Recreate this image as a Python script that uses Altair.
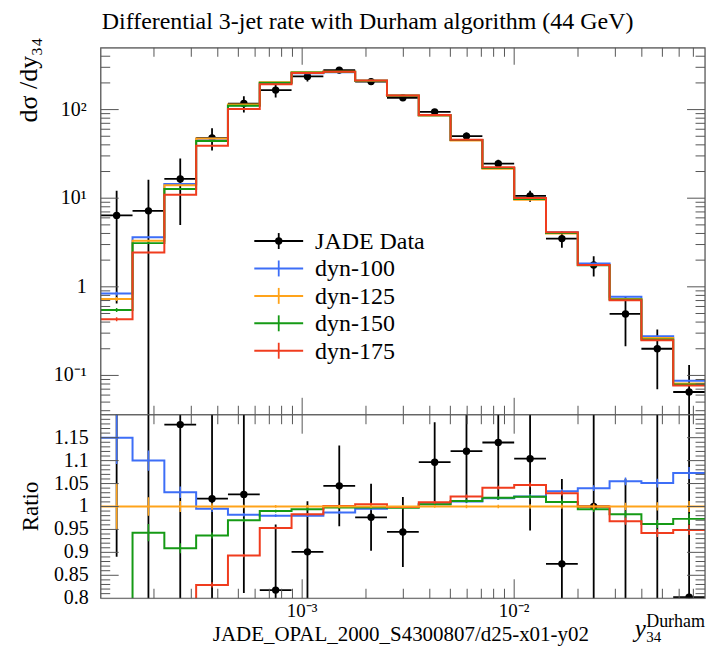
import altair as alt
import numpy as np
import pandas as pd

# ---------------- data ----------------
# bin edges of y34 (as log10 exponents)
edge_exp = [-3.95, -3.80, -3.65, -3.50, -3.35, -3.20, -3.05, -2.90, -2.75, -2.60,
            -2.45, -2.30, -2.15, -2.00, -1.85, -1.70, -1.55, -1.40, -1.25, -1.10]

# dyn-125 (reference curve of the ratio panel)
ref_125 = [0.73, 3.3, 14.0, 47.2, 114, 203, 263, 267, 212, 144, 86, 44.8,
           21.5, 9.6, 4.0, 1.76, 0.73, 0.264, 0.081]
# other generators as ratio to dyn-125
ratio_100 = [1.150, 1.100, 1.031, 0.995, 0.982, 0.980, 0.980, 0.987, 0.995, 0.999,
             1.005, 1.011, 1.018, 1.022, 1.033, 1.040, 1.055, 1.051, 1.073]
ratio_150 = [0.750, 0.943, 0.909, 0.937, 0.970, 0.990, 0.994, 0.998, 0.998, 0.997,
             1.005, 1.012, 1.019, 1.021, 1.010, 0.994, 0.983, 0.962, 0.973]
ratio_175 = [0.590, 0.740, 0.780, 0.829, 0.893, 0.953, 0.983, 1.001, 1.005, 0.999,
             1.009, 1.022, 1.041, 1.047, 1.029, 1.000, 0.968, 0.942, 0.949]
mc_relerr = [0.050, 0.020, 0.012, 0.007, 0.004, 0.003, 0.003, 0.003, 0.003, 0.003,
             0.003, 0.004, 0.004, 0.005, 0.005, 0.006, 0.008, 0.009, 0.012]

# JADE data
data_val = [6.4, 7.2, 16.5, 48, 117, 166, 237, 279, 207, 136, 94.3, 50.2,
            24.5, 10.6, 3.5, 1.76, 0.494, 0.20, 0.065]
data_err = [5.75, 9.0, 11.5, 13.5, 24.5, 29, 29, 23.5, 15.5, 11, 7.5, 5.0,
            2.7, 1.5, 0.74, 0.45, 0.28, 0.13, 0.066]

series_names = ["dyn-100", "dyn-125", "dyn-150", "dyn-175"]
series_colors = ["#3d6ef7", "#ffa31a", "#159a15", "#f03c1e"]
series_ratios = [ratio_100, [1.0] * len(ref_125), ratio_150, ratio_175]

main_y_ticks = [0.1, 1, 10, 100]
main_y_text = ["10⁻¹", "1", "10¹", "10²"]
ratio_y_ticks = [0.8, 0.85, 0.9, 0.95, 1.0, 1.05, 1.1, 1.15]
ratio_y_text = ["0.8", "0.85", "0.9", "0.95", "1", "1.05", "1.1", "1.15"]
x_ticks = [0.001, 0.01]
x_text = ["10⁻³", "10⁻²"]

title_text = "Differential 3-jet rate with Durham algorithm (44 GeV)"
xtitle_text = "JADE_OPAL_2000_S4300807/d25-x01-y02"
ytitle_text = "dσ /dy₃₄"

# ---------------- layout / style ----------------
W, HM, HR = 606, 368, 184
LEFT, TOP = 92, 37.7          # room left of / above the plot frame
FONT = "Liberation Serif"
FRAME = "#555555"

edges = [10 ** e for e in edge_exp]
lo_e = np.array(edges[:-1])
hi_e = np.array(edges[1:])
cen = np.sqrt(lo_e * hi_e)
ref = np.array(ref_125)

xsc = alt.Scale(type="log", domain=[edges[0], edges[-1]], nice=False)
ysm = alt.Scale(type="log", domain=[0.036, 498], nice=False)
ysr = alt.Scale(domain=[0.8, 1.2], nice=False, zero=False)

# minor tick lists
main_y_minor = [m * d for d in [0.01, 0.1, 1, 10, 100] for m in range(2, 10)
                if 0.036 < m * d < 498]
x_minor = [m * d for d in [1e-4, 1e-3, 1e-2] for m in range(2, 10)
           if edges[0] < m * d < edges[-1]]
ratio_y_minor = [round(0.8 + 0.01 * i, 2) for i in range(1, 40)
                 if round(0.8 + 0.01 * i, 2) not in ratio_y_ticks]

# ---------------- tables ----------------
steps = {}
errs = {}
for name, r in zip(series_names, series_ratios):
    r = np.array(r)
    v = r * ref
    xs = list(lo_e) + [edges[-1]]
    steps[name] = pd.DataFrame({"x": xs, "ym": list(v) + [v[-1]],
                                "yr": list(r) + [r[-1]], "o": range(len(xs))})
    rel = np.array(mc_relerr)
    errs[name] = pd.DataFrame({"x": cen, "mlo": v * (1 - rel), "mhi": v * (1 + rel),
                               "rlo": r * (1 - rel), "rhi": r * (1 + rel)})

dv = np.array(data_val)
de = np.array(data_err)
ddf = pd.DataFrame({
    "lo": lo_e, "hi": hi_e, "x": cen, "v": dv,
    "elo": np.maximum(dv - de, 1e-3), "ehi": dv + de,
    "rv": dv / ref, "rlo": (dv - de) / ref, "rhi": (dv + de) / ref,
})
one = pd.DataFrame({"a": [0]})


def frame(H):
    return alt.Chart(one).mark_rect(fillOpacity=0, stroke=FRAME, strokeWidth=1.2).encode(
        x=alt.value(0), x2=alt.value(W), y=alt.value(0), y2=alt.value(H))


def yticks(vals, scale, length):
    df = pd.DataFrame({"v": vals})
    base = alt.Chart(df).mark_rule(color=FRAME, strokeWidth=1)
    left = base.encode(y=alt.Y("v:Q", scale=scale, axis=None), x=alt.value(0), x2=alt.value(length))
    right = base.encode(y=alt.Y("v:Q", scale=scale, axis=None), x=alt.value(W), x2=alt.value(W - length))
    return [left, right]


def xticks(vals, length, H):
    df = pd.DataFrame({"v": vals})
    base = alt.Chart(df).mark_rule(color=FRAME, strokeWidth=1)
    top = base.encode(x=alt.X("v:Q", scale=xsc, axis=None), y=alt.value(0), y2=alt.value(length))
    bot = base.encode(x=alt.X("v:Q", scale=xsc, axis=None), y=alt.value(H), y2=alt.value(H - length))
    return [top, bot]


def ylabels(vals, texts, scale, xoff):
    df = pd.DataFrame({"v": vals, "t": texts})
    return alt.Chart(df).mark_text(font=FONT, fontSize=20, align="right", baseline="middle",
                                   color="black").encode(
        x=alt.value(xoff), y=alt.Y("v:Q", scale=scale, axis=None), text="t:N")


def data_layers(yv, ylo, yhi, yscale):
    c = alt.Chart(ddf)
    vbar = c.mark_rule(color="black", strokeWidth=1.8, clip=True).encode(
        x=alt.X("x:Q", scale=xsc, axis=None),
        y=alt.Y(f"{ylo}:Q", scale=yscale, axis=None), y2=f"{yhi}:Q")
    hbar = c.mark_rule(color="black", strokeWidth=1.8, clip=True).encode(
        x=alt.X("lo:Q", scale=xsc, axis=None), x2="hi:Q",
        y=alt.Y(f"{yv}:Q", scale=yscale, axis=None))
    pts = c.mark_circle(color="black", size=55, opacity=1, clip=True).encode(
        x=alt.X("x:Q", scale=xsc, axis=None),
        y=alt.Y(f"{yv}:Q", scale=yscale, axis=None))
    return [vbar, hbar, pts]


def mc_layers(order, ycol, lo, hi, yscale):
    out = []
    for name in order:
        col = series_colors[series_names.index(name)]
        out.append(alt.Chart(steps[name]).mark_line(
            interpolate="step-after", color=col, strokeWidth=2, clip=True).encode(
            x=alt.X("x:Q", scale=xsc, axis=None),
            y=alt.Y(f"{ycol}:Q", scale=yscale, axis=None),
            order="o:Q"))
        out.append(alt.Chart(errs[name]).mark_rule(color=col, strokeWidth=1.5, clip=True).encode(
            x=alt.X("x:Q", scale=xsc, axis=None),
            y=alt.Y(f"{lo}:Q", scale=yscale, axis=None), y2=f"{hi}:Q"))
    return out


# ---------------- main panel ----------------
main_layers = []
main_layers += data_layers("v", "elo", "ehi", ysm)
main_layers += mc_layers(series_names, "ym", "mlo", "mhi", ysm)
main_layers += yticks(main_y_ticks, ysm, 18)
main_layers += yticks(main_y_minor, ysm, 9.5)
main_layers += xticks(x_ticks, 17, HM)
main_layers += xticks(x_minor, 9, HM)
main_layers.append(frame(HM))
main_layers.append(ylabels(main_y_ticks, main_y_text, ysm, -14))

# legend
leg_names = ["JADE Data"] + series_names
leg_colors = ["black"] + series_colors
for i, (nm, col) in enumerate(zip(leg_names, leg_colors)):
    yy = 193.8 + 27.5 * i
    main_layers.append(alt.Chart(one).mark_rule(color=col, strokeWidth=2).encode(
        x=alt.value(154), x2=alt.value(203), y=alt.value(yy)))
    main_layers.append(alt.Chart(one).mark_rule(color=col, strokeWidth=1.8).encode(
        x=alt.value(178.5), y=alt.value(yy - 8), y2=alt.value(yy + 8)))
    if i == 0:
        main_layers.append(alt.Chart(one).mark_circle(color="black", size=55, opacity=1).encode(
            x=alt.value(178.5), y=alt.value(yy)))
    main_layers.append(alt.Chart(one).mark_text(
        text=nm, font=FONT, fontSize=24, align="left", baseline="middle", color="black").encode(
        x=alt.value(215), y=alt.value(yy + 1)))

# title and y label
main_layers.append(alt.Chart(one).mark_text(
    text=title_text, font=FONT, fontSize=24, align="left", baseline="alphabetic", color="black").encode(
    x=alt.value(1), y=alt.value(-18.5)))
main_layers.append(alt.Chart(one).mark_text(
    text=ytitle_text, font=FONT, fontSize=26, align="right", baseline="middle", angle=270,
    color="black").encode(x=alt.value(-72), y=alt.value(-10)))
# layout anchor (invisible): fixes the room left of and above the frame
main_layers.append(alt.Chart(one).mark_rule(strokeOpacity=0, strokeWidth=0.5).encode(
    x=alt.value(-LEFT + 0.25), x2=alt.value(W), y=alt.value(-TOP)))

main = alt.layer(*main_layers).properties(width=W, height=HM)

# ---------------- ratio panel ----------------
ratio_layers = []
ratio_layers += data_layers("rv", "rlo", "rhi", ysr)
ratio_layers += mc_layers(["dyn-100", "dyn-150", "dyn-175", "dyn-125"], "yr", "rlo", "rhi", ysr)
ratio_layers += yticks(ratio_y_ticks[1:], ysr, 18)
ratio_layers += yticks(ratio_y_minor, ysr, 9.5)
ratio_layers += xticks(x_ticks, 19, HR)
ratio_layers += xticks(x_minor, 9.5, HR)
ratio_layers.append(frame(HR))
ratio_layers.append(ylabels(ratio_y_ticks, ratio_y_text, ysr, -12))

ratio_layers.append(alt.Chart(pd.DataFrame({"v": x_ticks, "t": x_text})).mark_text(
    font=FONT, fontSize=19, align="center", baseline="alphabetic", color="black").encode(
    x=alt.X("v:Q", scale=xsc, axis=None), y=alt.value(203), text="t:N"))
ratio_layers.append(alt.Chart(one).mark_text(
    text=xtitle_text, font=FONT, fontSize=21, align="center", baseline="alphabetic",
    color="black").encode(x=alt.value(301), y=alt.value(227)))

ratio_layers.append(alt.Chart(pd.DataFrame({"v": [1.0]})).mark_text(
    text="Ratio", font=FONT, fontSize=23, align="center", baseline="middle", angle=270,
    color="black").encode(x=alt.value(-70), y=alt.Y("v:Q", scale=ysr, axis=None)))
ratio_layers.append(alt.Chart(one).mark_text(
    text="y", font=FONT, fontSize=25, fontStyle="italic", align="left", baseline="alphabetic",
    color="black").encode(x=alt.value(535.5), y=alt.value(223)))
ratio_layers.append(alt.Chart(one).mark_text(
    text="34", font=FONT, fontSize=15, align="left", baseline="alphabetic",
    color="black").encode(x=alt.value(547), y=alt.value(228)))
ratio_layers.append(alt.Chart(one).mark_text(
    text="Durham", font=FONT, fontSize=18, align="left", baseline="alphabetic",
    color="black").encode(x=alt.value(547), y=alt.value(212.5)))
ratio_layers.append(alt.Chart(one).mark_rule(strokeOpacity=0, strokeWidth=0.5).encode(
    x=alt.value(0), x2=alt.value(10), y=alt.value(HR + 30)))

ratio = alt.layer(*ratio_layers).properties(width=W, height=HR)

chart = alt.vconcat(main, ratio, spacing=0, bounds="flush").properties(
    padding=0
).configure_view(stroke=None).configure(background="white")

chart.save("out.html", embed_options={"renderer": "svg", "actions": False})
